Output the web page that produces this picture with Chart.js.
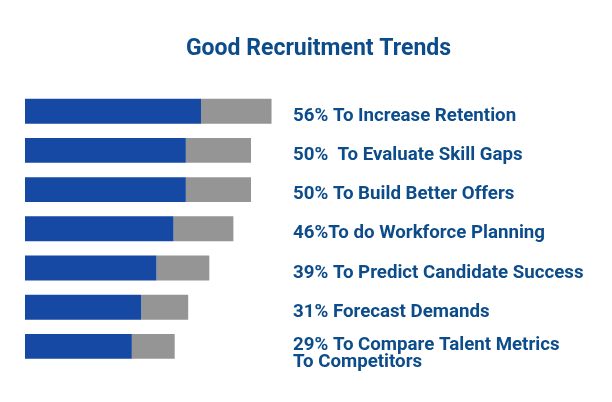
<!DOCTYPE html>
<html>
<head>
<meta charset="utf-8">
<script src="https://cdn.jsdelivr.net/npm/chart.js@4.4.1/dist/chart.umd.min.js"></script>
<style>
  html, body { margin: 0; padding: 0; background: #ffffff; }
  #wrap { width: 612px; height: 402px; position: relative; }
</style>
</head>
<body>
<div id="wrap"><canvas id="c" width="612" height="402"></canvas></div>
<script>
const titleText = "Good Recruitment Trends";
const categories = [
  "56% To Increase Retention",
  "50%  To Evaluate Skill Gaps",
  "50% To Build Better Offers",
  "46%To do Workforce Planning",
  "39% To Predict Candidate Success",
  "31% Forecast Demands",
  ["29% To Compare Talent Metrics", "To Competitors"]
];
const blueValues = [30.0, 27.4, 27.4, 25.3, 22.4, 19.8, 18.2];
const grayValues = [12.0, 11.1, 11.1, 10.2, 9.0, 8.0, 7.3];

const textColor = "#0D4C8A";

const rightLabels = {
  id: "rightLabels",
  afterDatasetsDraw(chart) {
    const ctx = chart.ctx;
    const y = chart.scales.y;
    const x0 = chart.chartArea.left + 268;
    ctx.save();
    ctx.fillStyle = textColor;
    ctx.font = "bold 18.7px Roboto";
    ctx.textAlign = "left";
    ctx.textBaseline = "middle";
    categories.forEach((lab, i) => {
      const cy = y.getPixelForValue(i);
      if (Array.isArray(lab)) {
        lab.forEach((line, j) => ctx.fillText(line, x0, cy - 1 + j * 17));
      } else {
        ctx.fillText(lab, x0, cy + 5);
      }
    });
    ctx.restore();
  }
};

new Chart(document.getElementById("c"), {
  type: "bar",
  data: {
    labels: categories,
    datasets: [
      { label: "share", data: blueValues, backgroundColor: "#1649A3", borderWidth: 0 },
      { label: "rest", data: grayValues, backgroundColor: "#959595", borderWidth: 0 }
    ]
  },
  options: {
    indexAxis: "y",
    responsive: false,
    animation: false,
    layout: { padding: { left: 25, right: 0, top: 0, bottom: 36 } },
    datasets: { bar: { barPercentage: 0.635, categoryPercentage: 1.0 } },
    scales: {
      x: { stacked: true, min: 0, max: 100, display: false },
      y: { stacked: true, display: false }
    },
    plugins: {
      legend: { display: false },
      tooltip: { enabled: false },
      title: {
        display: true,
        text: titleText,
        color: textColor,
        font: { family: "Roboto", size: 23, weight: "bold" },
        padding: { top: 35, bottom: 29 }
      }
    }
  },
  plugins: [rightLabels]
});
</script>
</body>
</html>
